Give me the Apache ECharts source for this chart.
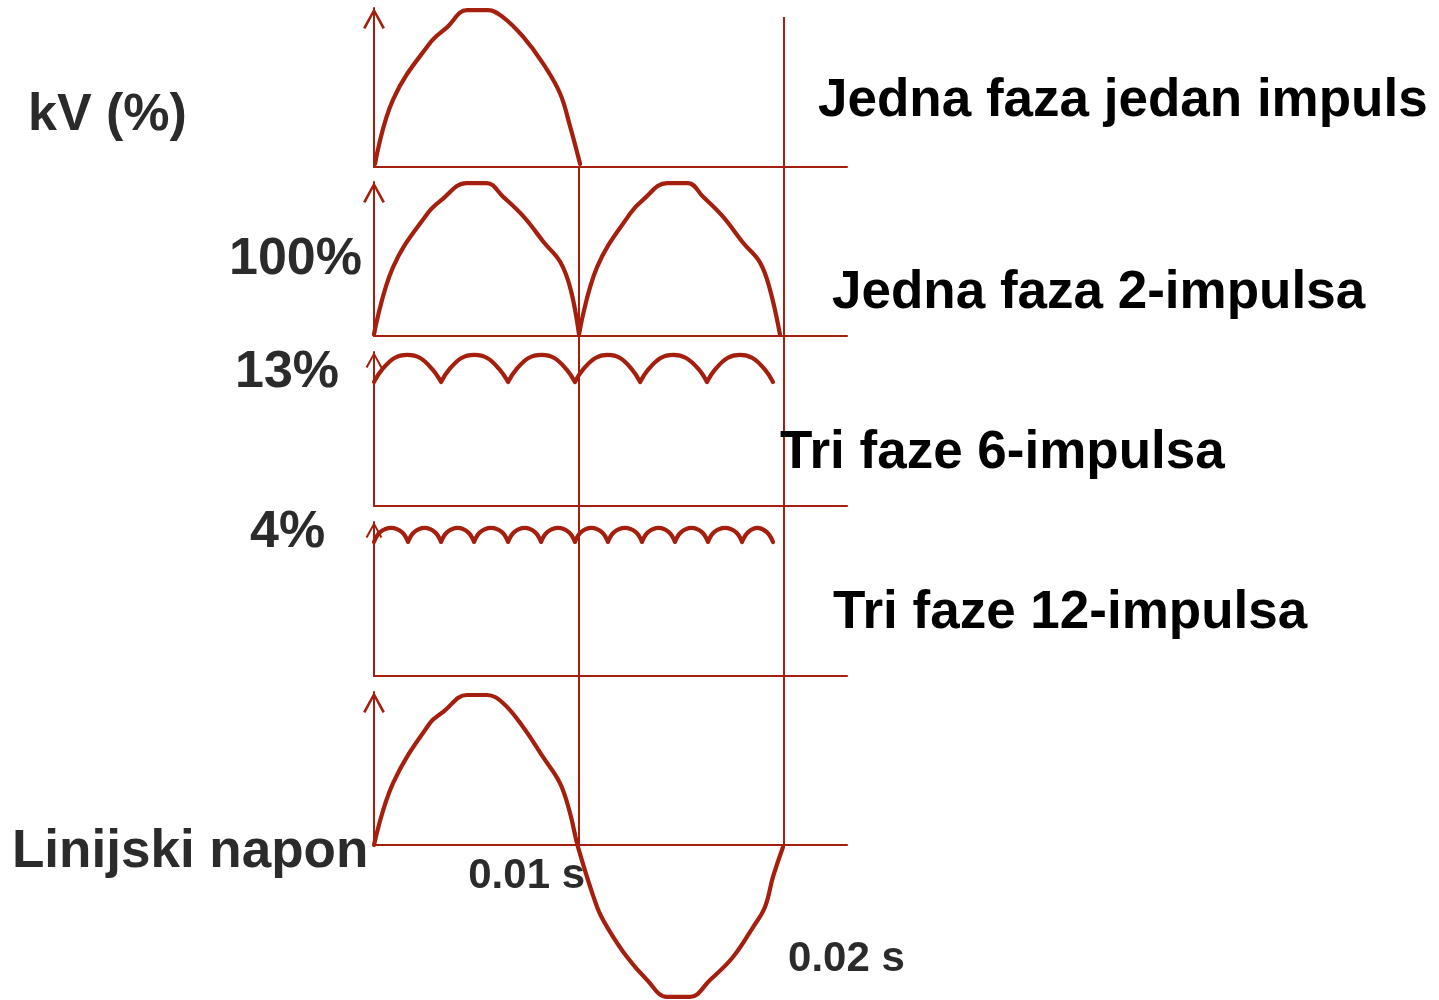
<!DOCTYPE html>
<html>
<head>
<meta charset="utf-8">
<script src="https://cdn.jsdelivr.net/npm/echarts@6/dist/echarts.min.js"></script>
<style>
  html, body { margin: 0; padding: 0; background: #ffffff; }
  #chart { width: 1439px; height: 1000px; }
</style>
</head>
<body>
<div id="chart"></div>
<script>
// Time in milliseconds, voltage in percent of the peak value.

// Jedna faza jedan impuls: one half-wave per period
const onePulse = [
  [0.05, 2], [0.93, 43], [2.73, 79], [3.56, 89], [4.54, 100], [5.56, 100],
  [6.29, 95.5], [7.27, 83], [8.24, 66], [9.07, 47], [9.56, 26], [10.05, 2]
];

// Jedna faza 2-impulsa: two half-waves, each drawn as its own arc
const twoPulse = [
  [[0, 1], [0.93, 45], [2.6, 80], [3.3, 89], [4.5, 100], [5.5, 100],
   [6.3, 91], [7.3, 78], [8.3, 61], [9.1, 48], [9.6, 30], [10.0, 1]],
  [[10.0, 1], [10.88, 45], [12.49, 80], [13.12, 89], [14.29, 100], [15.32, 100],
   [16.05, 91], [17.02, 78], [18.0, 61], [18.83, 48], [19.32, 30], [19.8, 1]]
];

// Tri faze 6-impulsa: ripple between 87 % and 100 %
const sixPulse = [
  [[0, 87], [0.4, 93], [1.0, 98.5], [1.63, 100], [2.25, 98.5], [2.85, 93], [3.27, 87]],
  [[3.27, 87], [3.67, 93], [4.27, 98.5], [4.9, 100], [5.52, 98.5], [6.12, 93], [6.54, 87]],
  [[6.54, 87], [6.94, 93], [7.54, 98.5], [8.17, 100], [8.79, 98.5], [9.39, 93], [9.8, 87]],
  [[9.8, 87], [10.2, 93], [10.8, 98.5], [11.4, 100], [12.0, 98.5], [12.58, 93], [12.98, 87]],
  [[12.98, 87], [13.38, 93], [13.98, 98.5], [14.6, 100], [15.22, 98.5], [15.84, 93], [16.24, 87]],
  [[16.24, 87], [16.64, 93], [17.24, 98.5], [17.85, 100], [18.46, 98.5], [19.06, 93], [19.46, 87]]
];

// Tri faze 12-impulsa: ripple between 96 % and 100 %
const twelvePulse = [
  [[0, 96], [0.3, 98.8], [0.83, 100], [1.36, 98.8], [1.66, 96]],
  [[1.66, 96], [1.96, 98.8], [2.47, 100], [2.97, 98.8], [3.27, 96]],
  [[3.27, 96], [3.57, 98.8], [4.08, 100], [4.58, 98.8], [4.88, 96]],
  [[4.88, 96], [5.18, 98.8], [5.71, 100], [6.24, 98.8], [6.54, 96]],
  [[6.54, 96], [6.84, 98.8], [7.35, 100], [7.85, 98.8], [8.15, 96]],
  [[8.15, 96], [8.45, 98.8], [8.98, 100], [9.5, 98.8], [9.8, 96]],
  [[9.8, 96], [10.1, 98.8], [10.6, 100], [11.11, 98.8], [11.41, 96]],
  [[11.41, 96], [11.71, 98.8], [12.24, 100], [12.77, 98.8], [13.07, 96]],
  [[13.07, 96], [13.37, 98.8], [13.88, 100], [14.38, 98.8], [14.68, 96]],
  [[14.68, 96], [14.98, 98.8], [15.49, 100], [15.99, 98.8], [16.29, 96]],
  [[16.29, 96], [16.59, 98.8], [17.12, 100], [17.65, 98.8], [17.95, 96]],
  [[17.95, 96], [18.25, 98.8], [18.7, 100], [19.16, 98.8], [19.46, 96]]
];

// Linijski napon: one full period of the line voltage
const lineVoltage = [
  [0, 0], [0.93, 41.3], [2.73, 81.3], [3.37, 88.7], [4.54, 100], [5.51, 100],
  [6.29, 94.7], [7.27, 78.7], [8.24, 58.7], [9.07, 41.3], [9.56, 21.3], [9.95, -1.3],
  [10.88, -41.3], [11.37, -54.7], [12.34, -74.7], [13.32, -90], [14.29, -101.3], [15.41, -101.3],
  [16.39, -90], [17.51, -74.7], [18.49, -54.7], [19.07, -41.3], [19.46, -21.3], [19.95, -1.3]
];

// Text
const axisTitle = 'kV (%)';
const rippleLabels = ['100%', '13%', '4%'];
const panelNames = ['Jedna faza jedan impuls', 'Jedna faza 2-impulsa', 'Tri faze 6-impulsa', 'Tri faze 12-impulsa'];
const baseName = 'Linijski napon';
const timeMarks = [10, 20];
const timeLabels = ['0.01 s', '0.02 s'];

const RED = '#a41f0d';
const X_MAX = 23.07;
const FONT = '"Liberation Sans", Arial, Helvetica, sans-serif';

// open arrow head for the vertical axes
const ARROW = 'path://M0,18 L10,0 L20,18 L17.8,19.2 L10,4.6 L2.2,19.2 Z';

// panel layout: grid box and value range of each strip
const panels = [
  { top: 8,   height: 159, min: 0,    max: 101.3, arrow: [23, 21] },
  { top: 182, height: 154, min: 0,    max: 100.7, arrow: [23, 21] },
  { top: 352, height: 154, min: 27.3, max: 101.4, arrow: [19, 16] },
  { top: 522, height: 154, min: 57.7, max: 101.7, arrow: [19, 16] },
  { top: 692, height: 153, min: 0,    max: 102,   arrow: [23, 21] }
];

function joinArcs(arcs) {
  const out = [];
  arcs.forEach((arc, i) => {
    if (i > 0) out.push([arc[0][0], '-']);
    arc.forEach(p => out.push(p));
  });
  return out;
}

const seriesData = [onePulse, joinArcs(twoPulse), joinArcs(sixPulse), joinArcs(twelvePulse), lineVoltage];

const grids = [], xAxes = [], yAxes = [], series = [];

panels.forEach((p, i) => {
  grids.push({ left: 374, width: 473, top: p.top, height: p.height, outerBoundsMode: 'none', containLabel: false });
  xAxes.push({
    type: 'value', gridIndex: i, min: 0, max: X_MAX,
    axisLine: { show: true, onZero: true, lineStyle: { color: RED, width: 2 } },
    axisTick: { show: false }, axisLabel: { show: false }, splitLine: { show: false }
  });
  yAxes.push({
    type: 'value', gridIndex: i, min: p.min, max: p.max,
    axisLine: {
      show: true, onZero: false,
      lineStyle: { color: RED, width: 2 },
      symbol: ['none', ARROW], symbolSize: p.arrow, symbolOffset: [0, -p.arrow[1] / 2]
    },
    axisTick: { show: false }, axisLabel: { show: false }, splitLine: { show: false }
  });
  series.push({
    type: 'line', xAxisIndex: i, yAxisIndex: i,
    data: seriesData[i], showSymbol: false, symbol: 'none',
    smooth: 0.4, connectNulls: false, clip: false,
    lineStyle: { color: RED, width: 4.2, cap: 'round', join: 'round' },
    silent: true, z: 5
  });
});

// vertical time markers: 0.02 s through every strip, 0.01 s from the second strip down
const markerFrames = [
  { top: 17,  height: 150, interval: 20 },
  { top: 167, height: 678, interval: 10 }
];
markerFrames.forEach((f) => {
  const gi = grids.length;
  grids.push({ left: 374, width: 473, top: f.top, height: f.height, outerBoundsMode: 'none', containLabel: false });
  xAxes.push({
    type: 'value', gridIndex: gi, min: 0, max: X_MAX, interval: f.interval,
    axisLine: { show: false }, axisTick: { show: false }, axisLabel: { show: false },
    splitLine: { show: true, showMinLine: false, showMaxLine: false, lineStyle: { color: RED, width: 2 } }
  });
  yAxes.push({ type: 'value', gridIndex: gi, min: 0, max: 1, show: false });
});

function txt(text, x, y, size, color, align) {
  return {
    type: 'text', x: x, y: y, silent: true, z: 10,
    style: {
      text: text, font: 'bold ' + size + 'px ' + FONT, fill: color,
      align: align || 'left', textAlign: align || 'left',
      verticalAlign: 'middle', textVerticalAlign: 'middle'
    }
  };
}

const DARK = '#2b2b2b';
const graphics = [
  txt(axisTitle, 28, 116, 52, DARK),
  txt(rippleLabels[0], 229, 260, 52, DARK),
  txt(rippleLabels[1], 235, 373, 52, DARK),
  txt(rippleLabels[2], 250, 533, 52, DARK),
  txt(baseName, 12, 852, 53, DARK),
  txt(panelNames[0], 818, 101, 53, '#000'),
  txt(panelNames[1], 832, 293, 53, '#000'),
  txt(panelNames[2], 780, 453, 53, '#000'),
  txt(panelNames[3], 833, 613, 53, '#000')
];

const chart = echarts.init(document.getElementById('chart'), null, { renderer: 'canvas' });
chart.setOption({
  animation: false,
  backgroundColor: '#ffffff',
  grid: grids,
  xAxis: xAxes,
  yAxis: yAxes,
  series: series,
  graphic: { elements: graphics }
});

// time labels placed at the markers of the bottom strip
const p1 = chart.convertToPixel({ xAxisIndex: 4, yAxisIndex: 4 }, [timeMarks[0], 0]);
const p2 = chart.convertToPixel({ xAxisIndex: 4, yAxisIndex: 4 }, [timeMarks[1], 0]);
chart.setOption({
  graphic: {
    elements: graphics.concat([
      txt(timeLabels[0], p1[0] + 6, p1[1] + 31, 42, DARK, 'right'),
      txt(timeLabels[1], p2[0] + 4, p2[1] + 114, 42, DARK, 'left')
    ])
  }
}, { replaceMerge: ['graphic'] });
</script>
</body>
</html>
